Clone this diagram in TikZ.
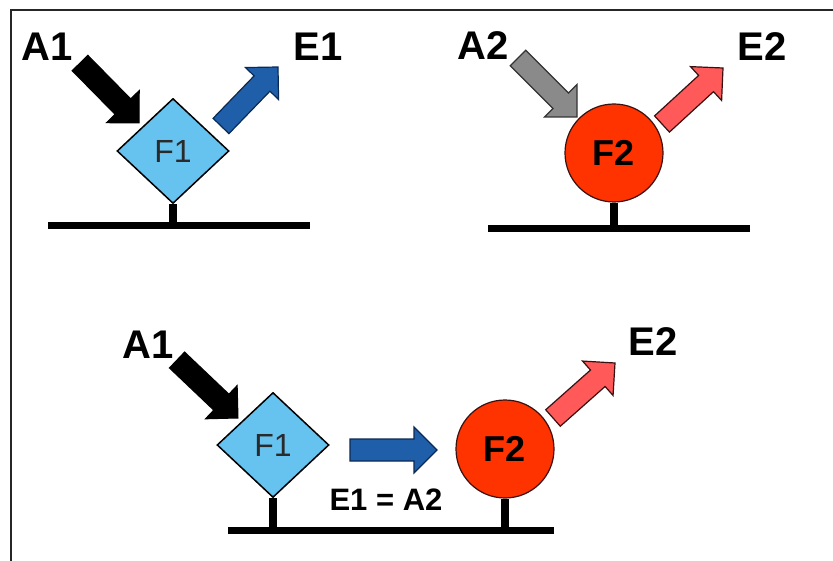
\documentclass[tikz,border=0pt]{standalone}
\usepackage{fontspec}
\setmainfont{Liberation Sans}
\usetikzlibrary{calc,shapes.geometric}
\definecolor{diafill}{HTML}{66C2EE}
\definecolor{blueA}{HTML}{1F5FAA}
\definecolor{blueD}{HTML}{0A2A55}
\definecolor{grayA}{HTML}{8A8A8A}
\definecolor{redA}{HTML}{FF5959}
\definecolor{circfill}{HTML}{FF3300}
\definecolor{darkline}{HTML}{3A1010}
\definecolor{ftext}{HTML}{2A2A2A}
\newcommand\blockarrow[3]{%
  \coordinate (ba-h) at ($(#3)!23pt!(#2)$);
  \filldraw[#1] ($(#2)!11pt!90:(#3)$) -- ($(ba-h)!11pt!90:(#3)$) -- ($(ba-h)!23pt!90:(#3)$) -- (#3)
    -- ($(ba-h)!23pt!-90:(#3)$) -- ($(ba-h)!11pt!-90:(#3)$) -- ($(#2)!11pt!-90:(#3)$) -- cycle;
}
\begin{document}
\begin{tikzpicture}[x=1pt,y=-1pt,
  lbl/.style={font=\fontsize{40}{42}\selectfont\bfseries, inner sep=0},
  eqlbl/.style={font=\fontsize{31}{33}\selectfont\bfseries, inner sep=0},
  fdiamond/.style={diamond, draw=black, line width=1.5pt, fill=diafill, minimum width=112pt, minimum height=105pt, inner sep=0, text=ftext, font=\fontsize{32}{34}\selectfont},
  fcircle/.style={circle, draw=darkline, line width=1.2pt, fill=circfill, minimum size=98pt, inner sep=0, font=\fontsize{36}{38}\selectfont\bfseries},
  ground/.style={line width=7pt, black},
  stem/.style={line width=8pt, black},
  frame/.style={line width=1.5pt, black!85},
  blackarrow/.style={fill=black, draw=black, line width=1pt},
  bluearrow/.style={fill=blueA, draw=blueD, line width=1.2pt},
  grayarrow/.style={fill=grayA, draw=black!80, line width=1.2pt},
  redarrow/.style={fill=redA, draw=darkline, line width=1.2pt}
]
\useasboundingbox (0,0) rectangle (833,561);
\draw[frame] (11,561) -- (11,10) -- (833,10);

% top left
\node[lbl] (a1) at (47,47) {A1};
\node[lbl] (e1) at (318,47) {E1};
\coordinate (g1l) at (48,226);
\coordinate (g1r) at (310,226);
\node[fdiamond] (f1) at (173,151) {F1};
\draw[stem] (f1.south) -- (f1.south |- g1l);
\draw[ground] (g1l) -- (g1r);
\coordinate (a1t) at (80,63); \coordinate (a1h) at (139,123);
\blockarrow{blackarrow}{a1t}{a1h}
\coordinate (e1t) at (221,126); \coordinate (e1h) at (278,67);
\blockarrow{bluearrow}{e1t}{e1h}

% top right
\node[lbl] (a2) at (483,46) {A2};
\node[lbl] (e2) at (762,47) {E2};
\coordinate (g2l) at (488,229);
\coordinate (g2r) at (750,229);
\node[fcircle] (f2) at (614,153) {F2};
\draw[stem] (f2.south) -- (f2.south |- g2l);
\draw[ground] (g2l) -- (g2r);
\coordinate (a2t) at (518,58); \coordinate (a2h) at (577,117);
\blockarrow{grayarrow}{a2t}{a2h}
\coordinate (e2t) at (662,124); \coordinate (e2h) at (723,68);
\blockarrow{redarrow}{e2t}{e2h}

% bottom
\node[lbl] (b-a1) at (148,345) {A1};
\node[lbl] (b-e2) at (653,342) {E2};
\coordinate (g3l) at (228,530);
\coordinate (g3r) at (554,530);
\node[fdiamond] (b-f1) at (273,445) {F1};
\node[fcircle] (b-f2) at (505,449) {F2};
\draw[stem] (b-f1.south) -- (b-f1.south |- g3l);
\draw[stem] (b-f2.south) -- (b-f2.south |- g3l);
\draw[ground] (g3l) -- (g3r);
\node[eqlbl] (eq) at (386,500) {E1 = A2};
\coordinate (b-a1t) at (177,360); \coordinate (b-a1h) at (238,418);
\blockarrow{blackarrow}{b-a1t}{b-a1h}
\coordinate (b-mt) at (350,450); \coordinate (b-mh) at (437,450);
\blockarrow{bluearrow}{b-mt}{b-mh}
\coordinate (b-e2t) at (553,418); \coordinate (b-e2h) at (615,363);
\blockarrow{redarrow}{b-e2t}{b-e2h}
\end{tikzpicture}
\end{document}
